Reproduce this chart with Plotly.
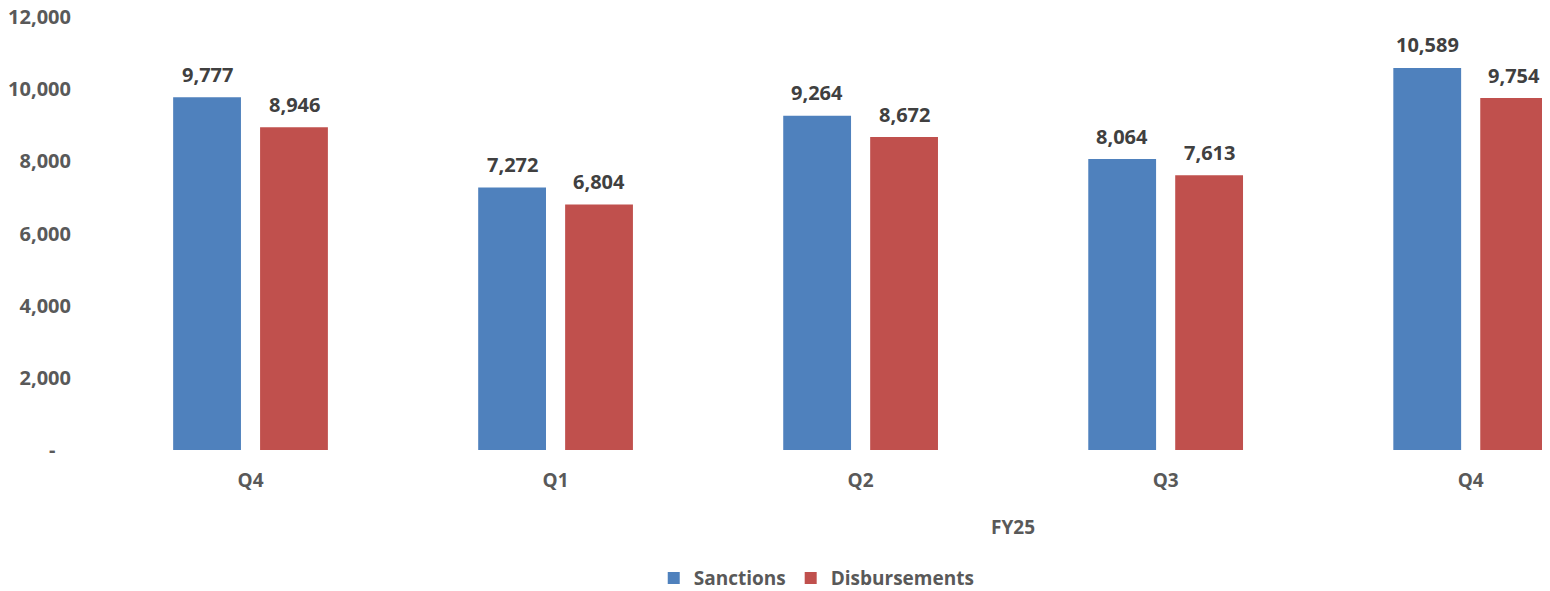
import plotly.graph_objects as go

quarters = ['Q4', 'Q1', 'Q2', 'Q3', 'Q4']
sanctions = [9777, 7272, 9264, 8064, 10589]
disbursements = [8946, 6804, 8672, 7613, 9754]
y_ticks = [0, 2000, 4000, 6000, 8000, 10000, 12000]
y_ticktext = ['-\u00a0\u00a0\u00a0', '2,000', '4,000', '6,000', '8,000', '10,000', '12,000']
group_label = 'FY25'

BLUE = '#4F81BD'
RED = '#C0504D'
FONT = 'Open Sans'

x = list(range(len(quarters)))

fig = go.Figure()
fig.add_trace(go.Bar(x=x, y=sanctions, name='Sanctions', marker=dict(color=BLUE, line=dict(width=0))))
fig.add_trace(go.Bar(x=x, y=disbursements, name='Disbursements', marker=dict(color=RED, line=dict(width=0))))

# value labels above each bar
for series, shift in [(sanctions, -43.5), (disbursements, 43.5)]:
    for i, v in enumerate(series):
        fig.add_annotation(
            x=i, y=v, xref='x', yref='y', text=f'{v:,}', showarrow=False,
            xshift=shift, yshift=23, yanchor='middle',
            font=dict(family=FONT, size=20, color='#404040', weight='bold')
        )

fig.add_annotation(
    x=2.5, y=0, xref='x', yref='paper', text=group_label, showarrow=False,
    yshift=-77, yanchor='middle',
    font=dict(family=FONT, size=19, color='#595959', weight='bold')
)

# page body adds an 8px offset, margins account for it
fig.update_layout(
    width=1550, height=591,
    margin=dict(l=90, r=8, t=9, b=149, autoexpand=False),
    plot_bgcolor='white', paper_bgcolor='white',
    barmode='group', bargap=0.43, bargroupgap=0.22,
    font=dict(family=FONT, size=19, color='#595959', weight='bold'),
    xaxis=dict(
        range=[-0.5, 4.26], tickmode='array', tickvals=x, ticktext=quarters,
        showgrid=False, showline=False, zeroline=False, ticks='',
        ticklabelstandoff=17, automargin=False
    ),
    yaxis=dict(
        range=[0, 12000], tickmode='array', tickvals=y_ticks, ticktext=y_ticktext,
        showgrid=False, showline=False, zeroline=False, ticks='',
        ticklabelstandoff=26, automargin=False, tickfont=dict(size=20),
        ticklabeloverflow='allow'
    ),
    legend=dict(
        orientation='h', x=0.495, xanchor='center', y=-0.296, yanchor='middle',
        font=dict(family=FONT, size=19, color='#595959', weight='bold'),
        itemwidth=30
    ),
    showlegend=True
)

fig.write_html("out.html")
